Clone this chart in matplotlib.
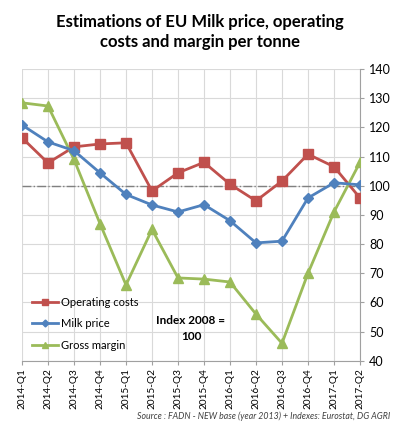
import matplotlib.pyplot as plt

# --- Data ---
quarters = ["2014-Q1", "2014-Q2", "2014-Q3", "2014-Q4", "2015-Q1", "2015-Q2", "2015-Q3",
            "2015-Q4", "2016-Q1", "2016-Q2", "2016-Q3", "2016-Q4", "2017-Q1", "2017-Q2"]
operating_costs = [116.4, 107.8, 113.3, 114.3, 114.7, 98.2, 104.4, 108.0, 100.5, 94.8, 101.6, 110.8, 106.5, 95.8]
milk_price = [120.8, 115.0, 112.0, 104.4, 97.0, 93.4, 91.0, 93.5, 88.0, 80.4, 81.0, 95.8, 101.0, 100.3]
gross_margin = [128.4, 127.3, 109.0, 87.0, 66.0, 85.0, 68.4, 68.0, 67.0, 56.0, 46.0, 70.0, 91.0, 108.0]

plt.rcParams['font.family'] = ['Lato', 'DejaVu Sans']

fig = plt.figure(figsize=(4.0, 4.23), dpi=100)
ax = fig.add_axes([0.055, 0.147, 0.845, 0.690])

x = list(range(len(quarters)))
ax.axhline(100, color='#808080', linestyle='-.', linewidth=1.0, zorder=1)
ax.plot(x, operating_costs, color='#C0504D', marker='s', markersize=7, linewidth=2, label="Operating costs", zorder=3)
ax.plot(x, milk_price, color='#4F81BD', marker='D', markersize=5, linewidth=2, label="Milk price", zorder=4)
ax.plot(x, gross_margin, color='#9BBB59', marker='^', markersize=7, linewidth=2, label="Gross margin", zorder=3)

ax.set_xlim(0, len(quarters) - 1)
ax.set_ylim(40, 140)
ax.set_xticks(x)
ax.set_xticklabels(quarters, rotation=90, fontsize=7.2)
ax.set_yticks(range(40, 141, 10))
ax.yaxis.tick_right()
ax.tick_params(axis='y', labelsize=9, length=3, color='#A0A0A0')
ax.tick_params(axis='x', length=3, pad=2, color='#A0A0A0')
ax.grid(True, color='#D9D9D9', linewidth=0.8)
ax.set_axisbelow(True)
for side in ['top', 'left']:
    ax.spines[side].set_visible(False)
for side in ['right', 'bottom']:
    ax.spines[side].set_color('#A0A0A0')

ax.legend(loc='lower left', bbox_to_anchor=(0.0, 0.0), frameon=False, fontsize=8,
          handlelength=2.3, labelspacing=0.95, borderaxespad=0.5, markerscale=0.7,
          handletextpad=0.3)
ax.text(0.5, 0.11, "Index 2008 =\n100", transform=ax.transAxes, fontsize=8.5,
        fontweight='bold', ha='center', va='center', linespacing=1.5)

fig.text(0.5, 0.925, "Estimations of EU Milk price, operating\ncosts and margin per tonne",
         ha='center', va='center', fontsize=12, fontweight='bold', linespacing=1.3)
fig.text(0.975, 0.004, "Source : FADN - NEW base (year 2013) + Indexes: Eurostat, DG AGRI",
         ha='right', va='bottom', fontsize=6.3, style='italic', color='#404040')

fig.savefig("out.png", dpi=100)
